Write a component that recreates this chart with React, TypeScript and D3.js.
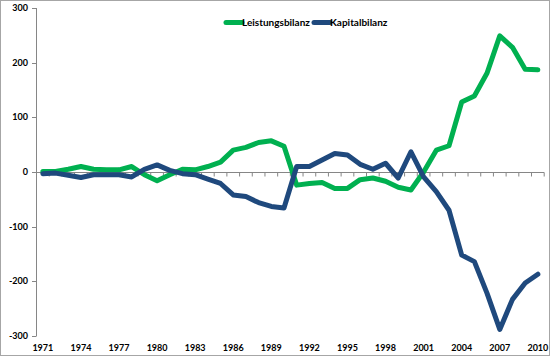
import React from "react";
import * as d3 from "d3";

const years: number[] = d3.range(1971, 2011);
const leistungsbilanz: number[] = [
  1, 1, 5, 10, 5, 4, 4, 10, -5, -16,
  -5, 5, 4, 10, 18, 40, 45, 54, 57, 47,
  -24, -21, -19, -30, -30, -14, -11, -17, -28, -33,
  0, 40, 48, 128, 139, 181, 249, 228, 188, 187,
];
const kapitalbilanz: number[] = [
  -3, -2, -6, -10, -5, -5, -5, -9, 5, 13,
  3, -3, -5, -13, -21, -42, -45, -56, -63, -66,
  10, 10, 22, 34, 31, 14, 5, 16, -11, 37,
  -9, -36, -70, -152, -164, -222, -288, -233, -203, -187,
];
const yTicks: number[] = [-300, -200, -100, 0, 100, 200, 300];
const xLabelYears: number[] = [1971, 1974, 1977, 1980, 1983, 1986, 1989, 1992, 1995, 1998, 2001, 2004, 2007, 2010];
const seriesNames: string[] = ["Leistungsbilanz", "Kapitalbilanz"];
const colors: string[] = ["#00B050", "#1F497D"];

export default function App() {
  const W = 550, H = 356;
  const x = d3.scaleBand<number>().domain(years).range([36.5, 544.2]).padding(0);
  const y = d3.scaleLinear().domain([-300, 300]).range([336, 8]);
  const cx = (yr: number) => (x(yr) as number) + x.bandwidth() / 2;
  const line = d3.line<number>()
    .x((_, i) => cx(years[i]))
    .y((v) => y(v));
  const font = "Lato, 'Liberation Sans', sans-serif";
  const axisColor = "#868686";
  const boundaries = d3.range(0, years.length + 1).map((i) => 36.5 + i * x.bandwidth());
  return (
    <svg width={W} height={H} style={{ position: "absolute", left: 0, top: 0, background: "#fff" }}>
      <rect x={0.5} y={0.5} width={W - 1} height={H - 1} fill="#fff" stroke="#a6a6a6" />
      {/* y axis */}
      <line x1={36.5} x2={36.5} y1={y(300)} y2={y(-300)} stroke={axisColor} />
      {yTicks.map((t) => (
        <g key={t}>
          <line x1={32} x2={36.5} y1={Math.round(y(t)) + 0.5} y2={Math.round(y(t)) + 0.5} stroke={axisColor} />
          <text x={28} y={y(t)} dy="0.35em" textAnchor="end" fontFamily={font} fontWeight="bold" fontSize={9} fill="#000">
            {t}
          </text>
        </g>
      ))}
      {/* x axis at zero */}
      <line x1={36.5} x2={544.2} y1={Math.round(y(0)) + 0.5} y2={Math.round(y(0)) + 0.5} stroke={axisColor} />
      {boundaries.map((bx, i) => (
        <line key={i} x1={bx} x2={bx} y1={Math.round(y(0)) + 0.5} y2={Math.round(y(0)) + 4.5} stroke={axisColor} />
      ))}
      {xLabelYears.map((yr) => (
        <text key={yr} x={cx(yr)} y={351} textAnchor="middle" fontFamily={font} fontWeight="bold" fontSize={9} fill="#000">
          {yr}
        </text>
      ))}
      {/* series */}
      <path d={line(leistungsbilanz) || ""} fill="none" stroke={colors[0]} strokeWidth={5} strokeLinejoin="round" strokeLinecap="round" />
      <path d={line(kapitalbilanz) || ""} fill="none" stroke={colors[1]} strokeWidth={5} strokeLinejoin="round" strokeLinecap="round" />
      {/* legend */}
      <line x1={226} x2={242} y1={22.5} y2={22.5} stroke={colors[0]} strokeWidth={5} strokeLinecap="round" />
      <text x={242} y={22.5} dy="0.35em" fontFamily={font} fontWeight="bold" fontSize={10} fill="#000">{seriesNames[0]}</text>
      <line x1={314} x2={330} y1={22.5} y2={22.5} stroke={colors[1]} strokeWidth={5} strokeLinecap="round" />
      <text x={330} y={22.5} dy="0.35em" fontFamily={font} fontWeight="bold" fontSize={10} fill="#000">{seriesNames[1]}</text>
    </svg>
  );
}
